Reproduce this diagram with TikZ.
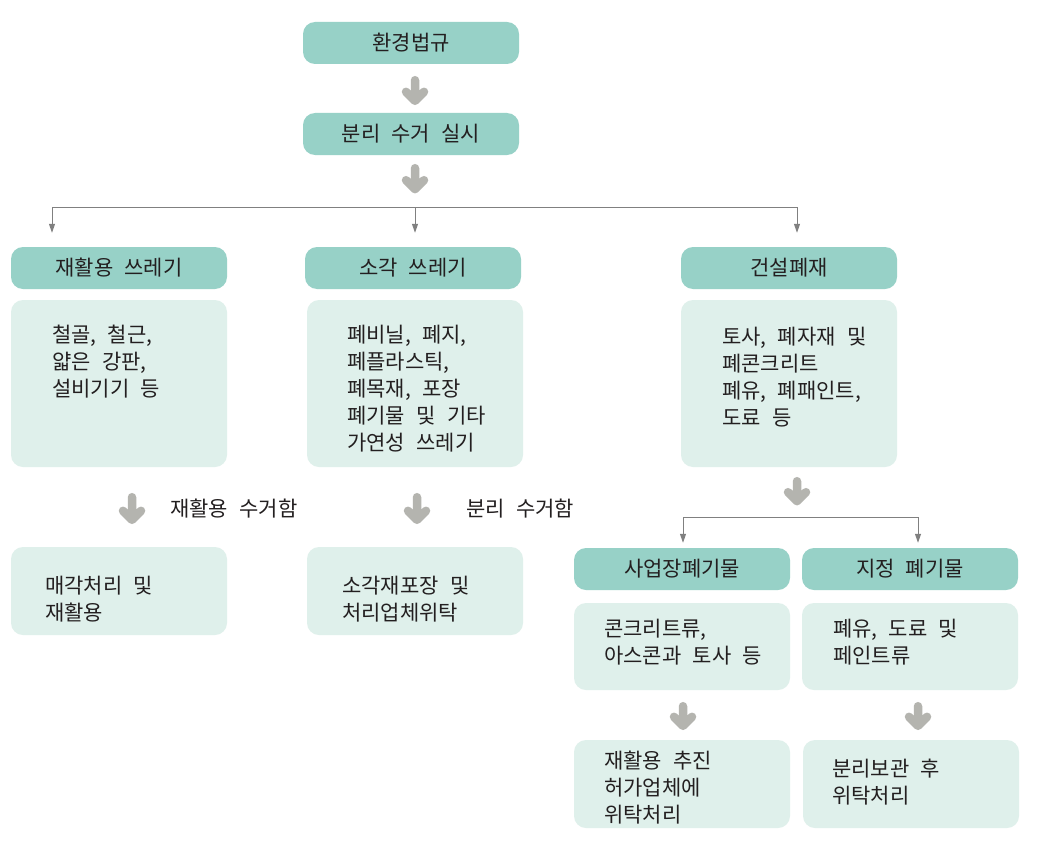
\documentclass[tikz,border=0pt]{standalone}
\usepackage{fontspec}
\setmainfont[WordSpace=2.4]{Noto Sans CJK KR}
\usetikzlibrary{arrows.meta,calc}
\definecolor{hdr}{HTML}{97D1C7}
\definecolor{bodyc}{HTML}{DFF0EB}
\definecolor{fatc}{HTML}{B4B4AF}
\definecolor{linec}{HTML}{808080}
\definecolor{txtc}{HTML}{231F20}
\begin{document}
\begin{tikzpicture}[x=1pt,y=-1pt,
  hbox/.style={fill=hdr, rounded corners=12pt, minimum width=216pt, minimum height=42pt, inner sep=0pt, font=\fontsize{21}{26.7}\selectfont, text=txtc},
  cbox/.style={fill=bodyc, rounded corners=12pt, minimum width=216pt, inner sep=0pt},
  txt/.style={anchor=north west, inner sep=0pt, align=left, font=\fontsize{21}{26.9}\selectfont, text=txtc},
  lbl/.style={anchor=west, inner sep=0pt, font=\fontsize{21}{26.7}\selectfont, text=txtc},
  fat/.style={draw=fatc, line width=8.5pt, line cap=round, line join=round,
    to path={(\tikztostart) -- (\tikztotarget) ($(\tikztotarget)+(-9,-9)$) -- (\tikztotarget) -- ($(\tikztotarget)+(9,-9)$)}},
  thin/.style={draw=linec, line width=1pt, -{Triangle[length=9pt,width=6pt]}},
  bus/.style={draw=linec, line width=1pt},
]
\useasboundingbox[fill=white] (0,0) rectangle (1040,856);

% top
\node[hbox] (h1) at (411,43) {환경법규};
\node[hbox] (h2) at (411,134) {분리 수거 실시};

% category headers
\node[hbox] (r1) at (119,268) {재활용 쓰레기};
\node[hbox] (r2) at (413,268) {소각 쓰레기};
\node[hbox] (r3) at (789,268) {건설폐재};

% contents
\node[cbox, minimum height=167pt] (c1) at (119,383.5) {};
\node[cbox, minimum height=167pt] (c2) at (415,383.5) {};
\node[cbox, minimum height=167pt] (c3) at (789,383.5) {};
\node[txt] (c1t) at (52,325) {철골, 철근,\\얇은 강판,\\설비기기 등};
\node[txt] (c2t) at (347,325) {폐비닐, 폐지,\\폐플라스틱,\\폐목재, 포장\\폐기물 및 기타\\가연성 쓰레기};
\node[txt] (c3t) at (722,327) {토사, 폐자재 및\\폐콘크리트\\폐유, 폐패인트,\\도료 등};

% results
\node[cbox, minimum height=88pt] (d1) at (119,591) {};
\node[cbox, minimum height=88pt] (d2) at (415,591) {};
\node[txt] (d1t) at (45,576) {매각처리 및\\재활용};
\node[txt] (d2t) at (342,576) {소각재포장 및\\처리업체위탁};

% construction branches
\node[hbox] (s1) at (682,569) {사업장폐기물};
\node[hbox] (s2) at (910,569) {지정 폐기물};
\node[cbox, minimum height=87pt] (t1) at (682,646.5) {};
\node[cbox, minimum height=87pt] (t2) at (910,646.5) {};
\node[txt] (t1t) at (604,619) {콘크리트류,\\아스콘과 토사 등};
\node[txt] (t2t) at (833,619) {폐유, 도료 및\\페인트류};
\node[cbox, minimum height=88pt] (u1) at (682,784) {};
\node[cbox, minimum height=88pt] (u2) at (911,784) {};
\node[txt] (u1t) at (604,751) {재활용 추진\\허가업체에\\위탁처리};
\node[txt] (u2t) at (832,759) {분리보관 후\\위탁처리};

% labels
\node[lbl] (l1) at (170,509) {재활용 수거함};
\node[lbl] (l2) at (466,509) {분리 수거함};

% fat arrows
\draw[fat] ([xshift=4pt,yshift=-16pt]h1.south) to ([xshift=4pt,yshift=12pt]h2.north);
\coordinate (f2) at ([xshift=4pt,yshift=-34pt]h2.south);
\draw[fat] ([xshift=4pt,yshift=-13pt]h2.south) to (f2);
\draw[fat] ([xshift=13pt,yshift=-30pt]c1.south) to ([xshift=13pt,yshift=27pt]d1.north);
\draw[fat] ([xshift=2pt,yshift=-30pt]c2.south) to ([xshift=2pt,yshift=27pt]d2.north);
\coordinate (f3) at ([xshift=8pt,yshift=-34pt]c3.south);
\draw[fat] ([xshift=8pt,yshift=-14pt]c3.south) to (f3);
\draw[fat] ([xshift=1pt,yshift=-16pt]t1.south) to ([xshift=1pt,yshift=14pt]u1.north);
\draw[fat] ([xshift=8pt,yshift=-16pt]t2.south) to ([xshift=7pt,yshift=14pt]u2.north);

% bus 1
\coordinate (bL) at (52,207);
\coordinate (bM) at (415,207);
\coordinate (bR) at (797,207);
\draw[bus] (bL) -- (bR);
\draw[thin] (bL) -- ([xshift=-67pt,yshift=14pt]r1.north);
\draw[thin] (bM) -- ([xshift=2pt,yshift=14pt]r2.north);
\draw[thin] (bR) -- ([xshift=8pt,yshift=14pt]r3.north);

% bus 2
\coordinate (gL) at (683,517);
\coordinate (gR) at (918,517);
\draw[bus] (gL) -- (gR);
\draw[thin] (gL) -- ([xshift=1pt,yshift=5pt]s1.north);
\draw[thin] (gR) -- ([xshift=8pt,yshift=5pt]s2.north);
\end{tikzpicture}
\end{document}
